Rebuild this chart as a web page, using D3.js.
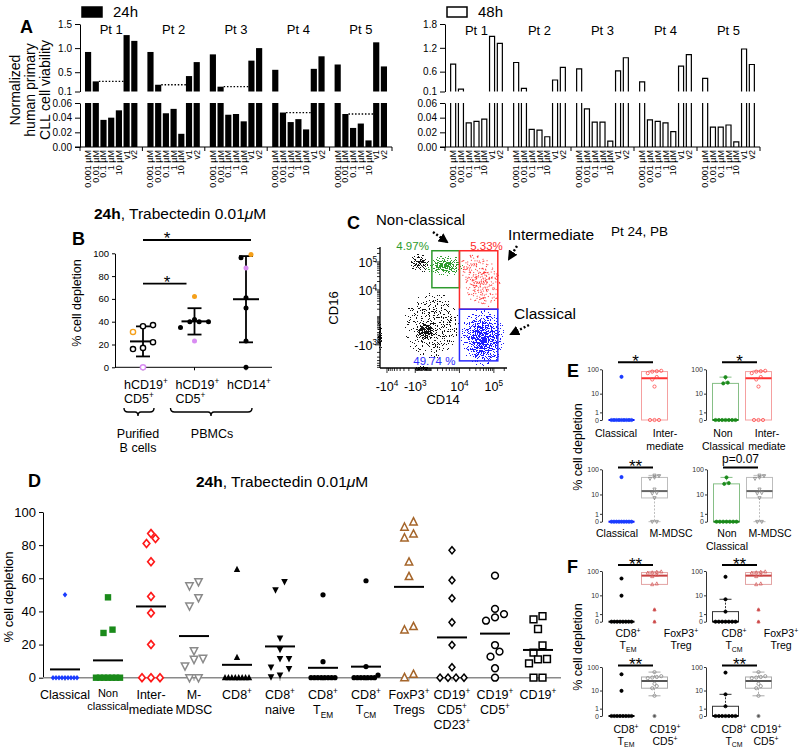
<!DOCTYPE html>
<html><head><meta charset="utf-8">
<script src="https://cdn.jsdelivr.net/npm/d3@7"></script>
<style>html,body{margin:0;padding:0;background:#fff}</style>
</head><body>
<svg id="fig" width="800" height="750" xmlns="http://www.w3.org/2000/svg"></svg>
<script>
// ======================= DATA =======================
// Panel A
const concLabels = ["0.001 µM","0.01 µM","0.1 µM","1 µM","10 µM","v1","v2"];
const patients = ["Pt 1","Pt 2","Pt 3","Pt 4","Pt 5"];
const viability24h = [
  [0.92, 0.31, 0.037, 0.040, 0.050, 1.27, 1.15],
  [0.92, 0.24, 0.046, 0.052, 0.018, 0.42, 0.71],
  [0.87, 0.20, 0.044, 0.045, 0.035, 0.74, 1.00],
  [0.55, 0.047, 0.034, 0.038, 0.024, 0.57, 0.83],
  [0.66, 0.045, 0.026, 0.032, 0.009, 1.12, 0.62]
];
const viability48h = [
  [0.79, 0.16, 0.033, 0.035, 0.038, 1.49, 1.31],
  [0.83, 0.18, 0.024, 0.023, 0.014, 0.39, 0.71],
  [0.67, 0.052, 0.034, 0.034, 0.008, 0.62, 0.95],
  [0.34, 0.037, 0.035, 0.033, 0.021, 0.74, 1.03],
  [0.43, 0.027, 0.027, 0.030, 0.007, 1.17, 0.78]
];
const upperTicks24h = [0.1, 0.5, 1.0, 1.5];
const upperTicks48h = [0.1, 0.6, 1.2, 1.8];
const lowerTicks = [0.00, 0.02, 0.04, 0.06];

// Panel B
const bGroups = ["purified CD19+CD5+", "PBMC CD19+CD5+", "PBMC CD14+"];
const bGroupLabels = [["hCD19^{+}","CD5^{+}"], ["hCD19^{+}","CD5^{+}"], ["hCD14^{+}"]];
const bValues = [
  [36, 37, 31, 22, 17, 16, 0],
  [40, 42, 40, 35, 40, 62, 23],
  [96, 61, 52, 23, 0, 99, 87]
];
const bDonor = [
  ["k","k","orange","k","k","k","violet"],
  ["k","k","k","k","k","orange","violet"],
  ["k","k","k","k","k","orange","violet"]
];
const bTicks = [0, 20, 40, 60, 80, 100];

// Panel C (flow cytometry, CD14 vs CD16)
const cXDomain = [-16000, 240000];
const cYDomain = [-7400, 340000];
const cXTicks = [-1e4, -1e3, 1e4, 1e5];
const cYTicks = [-1e3, 1e4, 1e5];
const cGates = [
  {name: "Non-classical", pct: "4.97%",   x: [1100, 1e4],  y: [1.2e4, 2.5e5]},
  {name: "Intermediate",  pct: "5.33%",   x: [1e4, 1.3e5], y: [2000, 2.5e5]},
  {name: "Classical",     pct: "49.74 %", x: [1e4, 1.3e5], y: [-4100, 2000]}
];
const cPopulations = [
  {pop: "halo",          color: "black", x: 1100,   y: 350,    sx: 1.3,  sy: 1.9,  dens: 0.36, tilt: 0},
  {pop: "lymphocytes",   color: "black", x: 216,    y: -66,    sx: 0.5,  sy: 0.6,  dens: 1.0,  tilt: 0},
  {pop: "CD16+CD14-",    color: "black", x: -385,   y: 91700,  sx: 0.55, sy: 0.5,  dens: 0.7,  tilt: 0},
  {pop: "non-classical", color: "green", x: 3640,   y: 71800,  sx: 0.9,  sy: 0.55, dens: 0.8,  tilt: 0},
  {pop: "intermediate",  color: "red",   x: 39700,  y: 22700,  sx: 0.85, sy: 1.6,  dens: 0.45, tilt: -25},
  {pop: "classical",     color: "blue",  x: 48500,  y: -435,   sx: 0.95, sy: 1.6,  dens: 0.8,  tilt: 0},
  {pop: "classical core",color: "blue",  x: 45000,  y: -800,   sx: 0.5,  sy: 0.85, dens: 1.0,  tilt: 0},
  {pop: "pile y-min",    color: "black", x: -16000, y: -300,   sx: 0.1,  sy: 0.9,  dens: 1.0,  tilt: 0},
  {pop: "pile x-min",    color: "black", x: -144,   y: -7400,  sx: 0.45, sy: 0.12, dens: 1.0,  tilt: 0}
];

// Panel D
const dCats = ["Classical","Non classical","Intermediate","M-MDSC","CD8+","CD8+ naive","CD8+ TEM","CD8+ TCM","FoxP3+ Tregs","CD19+CD5+CD23+","CD19+CD5+","CD19+"];
const dLabels = [["Classical"],["Non","classical"],["Inter-","mediate"],["M-","MDSC"],["CD8^{+}"],["CD8^{+}","naive"],["CD8^{+}","T_{EM}"],["CD8^{+}","T_{CM}"],["FoxP3^{+}","Tregs"],["CD19^{+}","CD5^{+}","CD23^{+}"],["CD19^{+}","CD5^{+}"],["CD19^{+}"]];
const dValues = [
  [50, 0, 0, 0, 0, 0, 0, 0, 0, 0],
  [48.5, 29, 27, 0, 0, 0, 0, 0, 0, 0],
  [87, 84, 81, 70, 49, 39, 20, 0, 0, 0],
  [58, 55.5, 48.3, 43.3, 16.3, 11.7, 11.1, 7.1, 0, 0],
  [65.4, 12.3, 0, 0, 0, 0, 0, 0, 0, 0],
  [58, 53, 23.8, 17.1, 11.5, 11.5, 6.4, 5.4, 1.5, 0.5],
  [50, 9.7, 0, 0, 0, 0, 0, 0, 0, 0],
  [58.5, 6.7, 1.5, 0, 0, 0, 0, 0, 0, 0],
  [94, 90.8, 86.7, 84.3, 69.8, 61, 30.8, 28.8, 2, 0],
  [76.9, 58.8, 47.9, 33.4, 19.7, 6.3, 0, 0, 0, 0],
  [61.6, 41.5, 38.4, 36.4, 34.4, 19.7, 15.7, 12.7, 5.7, 0],
  [37.2, 35.2, 29.4, 19.5, 15.1, 11.3, 11.1, 8.7, 0, 0]
];
const dTicks = [0, 20, 40, 60, 80, 100];

// Panels E / F : pairwise comparisons (indices into dCats)
const efPairs = [
  {a: 0, b: 2, sig: "*"}, {a: 1, b: 2, sig: "*"}, {a: 0, b: 3, sig: "**"}, {a: 1, b: 3, sig: "p=0.07"},
  {a: 6, b: 8, sig: "**"}, {a: 7, b: 8, sig: "**"}, {a: 6, b: 10, sig: "**"}, {a: 7, b: 10, sig: "**"}
];
const efShortLabels = {0: ["Classical"], 1: ["Non","Classical"], 2: ["Inter-","mediate"], 3: ["M-MDSC"],
  6: ["CD8^{+}","T_{EM}"], 7: ["CD8^{+}","T_{CM}"], 8: ["FoxP3^{+}","Treg"], 10: ["CD19^{+}","CD5^{+}"]};
const efTicks = [0, 1, 10, 100];

// ======================= STYLE / LAYOUT =======================
const FF = '"Liberation Sans", Arial, Helvetica, sans-serif';
const svg = d3.select("#fig").attr("font-family", FF);
svg.append("rect").attr("width", 800).attr("height", 750).attr("fill", "#fff");

function rich(t, str, fs) {
  const re = /(\^|_)\{([^}]*)\}|([^\^_]+)/g; let m, pend = 0;
  while ((m = re.exec(str)) !== null) {
    if (m[3] !== undefined) {
      const s = t.append("tspan").text(m[3]);
      if (pend) { s.attr("dy", pend); pend = 0; }
    } else {
      const d = m[1] === "^" ? -0.38 * fs : 0.28 * fs;
      t.append("tspan").text(m[2]).attr("font-size", 0.66 * fs).attr("dy", d + pend);
      pend = -d;
    }
  }
}
function txt(g, x, y, str, o = {}) {
  const fs = o.fs || 12;
  const t = g.append("text").attr("x", x).attr("y", y).attr("font-size", fs)
    .attr("text-anchor", o.anchor || "start").attr("fill", o.fill || "#000");
  if (o.weight) t.attr("font-weight", o.weight);
  if (o.rotate != null) t.attr("transform", `rotate(${o.rotate},${x},${y})`);
  rich(t, str, fs);
  return t;
}
function styleAxis(s, fs, col) {
  s.attr("font-family", FF).attr("font-size", fs);
  s.selectAll("path,line").attr("stroke", col || "#000");
  s.selectAll("text").attr("fill", col || "#000");
}
function markerPath(shape, r) {
  switch (shape) {
    case "circle": return `M${-r},0A${r},${r} 0 1,0 ${r},0A${r},${r} 0 1,0 ${-r},0Z`;
    case "square": return `M${-r},${-r}H${r}V${r}H${-r}Z`;
    case "diamond": return `M0,${-r * 1.2}L${r},0L0,${r * 1.2}L${-r},0Z`;
    case "triangle": return `M0,${-r * 1.15}L${r},${r * 0.8}L${-r},${r * 0.8}Z`;
    case "triangleDown": return `M0,${r * 1.15}L${r},${-r * 0.8}L${-r},${-r * 0.8}Z`;
  }
}
// symmetric horizontal spreading of points with similar values
function spread(values, yScale, sep, maxHalf, binPx) {
  const idx = values.map((v, i) => i).sort((a, b) => values[a] - values[b]);
  const dx = new Array(values.length).fill(0);
  let bin = [], binY = null;
  const flush = () => {
    const n = bin.length; if (!n) return;
    const step = n > 1 ? Math.min(sep, 2 * maxHalf / (n - 1)) : 0;
    bin.forEach((j, k) => dx[j] = (k - (n - 1) / 2) * step); bin = [];
  };
  idx.forEach(i => { const y = yScale(values[i]); if (binY === null || Math.abs(y - binY) > binPx) { flush(); binY = y; } bin.push(i); });
  flush();
  return dx;
}

// ======================= PANEL A =======================
function drawA(cfg) {
  const g = svg.append("g");
  const xG = d3.scaleBand().domain(patients).range([cfg.x0, cfg.x1]).paddingInner(0.16).paddingOuter(0.08);
  const xB = d3.scaleBand().domain(concLabels).range([0, xG.bandwidth()]).paddingInner(0.2);
  const yU = d3.scaleLinear().domain([0.1, cfg.upMax]).range([91.5, 24]);
  const yL = d3.scaleLinear().domain([0, 0.06]).range([147, 103]);
  const bw = xB.bandwidth();
  patients.forEach((p, pi) => {
    const gx = xG(p);
    cfg.data[pi].forEach((v, ci) => {
      const x = gx + xB(concLabels[ci]);
      const lowTop = yL(Math.min(v, 0.06));
      if (cfg.filled) {
        g.append("rect").attr("x", x).attr("y", lowTop).attr("width", bw).attr("height", yL(0) - lowTop).attr("fill", "#000");
        if (v > 0.1) g.append("rect").attr("x", x).attr("y", yU(v)).attr("width", bw).attr("height", yU(0.1) - yU(v)).attr("fill", "#000");
      } else {
        const xa = x + 0.6, xb = x + bw - 0.6;
        const d = v > 0.06 ? `M${xa},${yL(0)}V${lowTop}M${xb},${lowTop}V${yL(0)}` : `M${xa},${yL(0)}V${lowTop}H${xb}V${yL(0)}`;
        g.append("path").attr("d", d).attr("fill", "none").attr("stroke", "#000").attr("stroke-width", 1.2);
        if (v > 0.1) g.append("path").attr("d", `M${xa},${yU(0.1)}V${yU(v)}H${xb}V${yU(0.1)}`).attr("fill", "none").attr("stroke", "#000").attr("stroke-width", 1.2);
      }
      g.append("text").attr("transform", `translate(${x + bw / 2 + 3},150) rotate(-90)`)
        .attr("text-anchor", "end").attr("font-size", 9).text(concLabels[ci]);
    });
    g.append("text").attr("x", gx + xG.bandwidth() / 2).attr("y", cfg.ptY).attr("text-anchor", "middle").attr("font-size", 13).text(p);
    if (cfg.refLine) {
      const v = cfg.data[pi][1]; const y = v > 0.1 ? yU(v) : yL(v);
      g.append("line").attr("x1", gx + xB(concLabels[1]) + bw).attr("x2", gx + xB(concLabels[5]))
        .attr("y1", y).attr("y2", y).attr("stroke", "#000").attr("stroke-width", 1.3).attr("stroke-dasharray", "1.5,1.8");
    }
  });
  g.append("g").attr("transform", `translate(${cfg.x0},0)`)
    .call(d3.axisLeft(yU).tickValues(cfg.upTicks).tickFormat(d3.format(".1f")).tickSize(5).tickSizeOuter(0)).call(s => styleAxis(s, 10));
  g.append("g").attr("transform", `translate(${cfg.x0},0)`)
    .call(d3.axisLeft(yL).tickValues(lowerTicks).tickFormat(d3.format(".2f")).tickSize(5).tickSizeOuter(0)).call(s => styleAxis(s, 10));
  g.append("line").attr("x1", cfg.x0 - 5).attr("x2", cfg.x1).attr("y1", yL(0)).attr("y2", yL(0)).attr("stroke", "#000").attr("stroke-width", 1.2);
  for (let i = 0; i <= patients.length; i++) {
    const tx = cfg.x0 + i * xG.step();
    g.append("line").attr("x1", tx).attr("x2", tx).attr("y1", yL(0)).attr("y2", yL(0) + 4).attr("stroke", "#000");
  }
  g.append("rect").attr("x", cfg.x0 + 2).attr("y", 7).attr("width", 20).attr("height", 10)
    .attr("fill", cfg.filled ? "#000" : "#fff").attr("stroke", "#000").attr("stroke-width", 1.5);
  g.append("text").attr("x", cfg.x0 + 33).attr("y", 17).attr("font-size", 15).text(cfg.legend);
}
drawA({x0: 80, x1: 392, data: viability24h, upMax: 1.5, upTicks: upperTicks24h, filled: true, refLine: true, legend: "24h", ptY: 34});
drawA({x0: 445, x1: 760, data: viability48h, upMax: 1.8, upTicks: upperTicks48h, filled: false, refLine: false, legend: "48h", ptY: 35});
txt(svg, 20, 33, "A", {fs: 18, weight: "bold"});
[["Normalized", 20], ["human primary", 35], ["CLL cell viability", 50]].forEach(([s, x]) =>
  txt(svg, x, 90, s, {fs: 14, anchor: "middle", rotate: -90}));

function trabTitle(x, y) {
  const t = svg.append("text").attr("x", x).attr("y", y).attr("font-size", 15.5);
  t.append("tspan").attr("font-weight", "bold").text("24h");
  t.append("tspan").text(", Trabectedin 0.01");
  t.append("tspan").attr("font-style", "italic").text("μ");
  t.append("tspan").text("M");
}

// ======================= PANEL B =======================
(function () {
  const g = svg.append("g");
  trabTitle(94, 219);
  txt(g, 72, 245, "B", {fs: 18, weight: "bold"});
  const by = d3.scaleLinear().domain([0, 100]).range([367.3, 253.3]);
  const bx = d3.scalePoint().domain(bGroups).range([143, 246]);
  g.append("g").attr("transform", "translate(115,0)")
    .call(d3.axisLeft(by).tickValues(bTicks).tickSize(3).tickSizeOuter(0)).call(s => styleAxis(s, 9.5));
  g.append("line").attr("x1", 115).attr("x2", 272).attr("y1", by(0)).attr("y2", by(0)).attr("stroke", "#000");
  bGroups.forEach(k => g.append("line").attr("x1", bx(k)).attr("x2", bx(k)).attr("y1", by(0)).attr("y2", by(0) + 3).attr("stroke", "#000"));
  txt(g, 81, 303, "% cell depletion", {fs: 12.5, anchor: "middle", rotate: -90});
  const donorCol = {k: "#000", orange: "#f5a01a", violet: "#d98cf2"};
  bGroups.forEach((k, gi) => {
    const vals = bValues[gi], cx = bx(k);
    const m = d3.mean(vals), sd = d3.deviation(vals);
    g.append("line").attr("x1", cx).attr("x2", cx).attr("y1", by(m - sd)).attr("y2", by(m + sd)).attr("stroke", "#000").attr("stroke-width", 1.8);
    [m - sd, m + sd].forEach(v => g.append("line").attr("x1", cx - 7).attr("x2", cx + 7).attr("y1", by(v)).attr("y2", by(v)).attr("stroke", "#000").attr("stroke-width", 1.8));
    g.append("line").attr("x1", cx - 13).attr("x2", cx + 13).attr("y1", by(m)).attr("y2", by(m)).attr("stroke", "#000").attr("stroke-width", 2);
    const dx = spread(vals, by, 10, 14, 7);
    vals.forEach((v, i) => {
      const col = donorCol[bDonor[gi][i]];
      const p = g.append("path").attr("d", markerPath("circle", gi === 0 ? 2.6 : 2.5)).attr("transform", `translate(${cx + dx[i]},${by(v)})`);
      if (gi === 0) p.attr("fill", "#fff").attr("stroke", col).attr("stroke-width", 1.4);
      else p.attr("fill", col);
    });
    bGroupLabels[gi].forEach((s, li) => txt(g, cx - 19, 389 + li * 14, s, {fs: 12.5}));
  });
  const sig = (x1, x2, y, sx) => {
    g.append("line").attr("x1", x1).attr("x2", x2).attr("y1", y).attr("y2", y).attr("stroke", "#000").attr("stroke-width", 1.8);
    txt(g, sx, y + 4, "*", {fs: 17, anchor: "middle"});
  };
  sig(bx(bGroups[0]), bx(bGroups[2]) + 5, 240, 167);
  sig(bx(bGroups[0]), bx(bGroups[1]) - 8, 283.7, 167);
  const brace = (x1, x2, sx) => `M${x1},408q0,4 4,4H${sx - 3}q3,0 3,4q0,-4 3,-4H${x2 - 4}q4,0 4,-4`;
  g.append("path").attr("d", brace(bx(bGroups[0]) - 19, bx(bGroups[0]) + 11, 138)).attr("fill", "none").attr("stroke", "#000").attr("stroke-width", 1.4);
  g.append("path").attr("d", brace(bx(bGroups[1]) - 24, bx(bGroups[2]) + 6, 211)).attr("fill", "none").attr("stroke", "#000").attr("stroke-width", 1.4);
  txt(g, 138, 438, "Purified", {fs: 12.5, anchor: "middle"});
  txt(g, 138, 452, "B cells", {fs: 12.5, anchor: "middle"});
  txt(g, 212, 438, "PBMCs", {fs: 12.5, anchor: "middle"});
})();

// ======================= PANEL C =======================
(function () {
  const g = svg.append("g");
  const tX = v => Math.asinh(v / 1800), tY = v => Math.asinh(v / 700);
  const xs = d3.scaleLinear().domain(cXDomain.map(tX)).range([380, 507]);
  const ys = d3.scaleLinear().domain(cYDomain.map(tY)).range([368, 247]);
  const X = v => xs(tX(v)), Y = v => ys(tY(v));
  const pxX = (xs.range()[1] - xs.range()[0]) / (xs.domain()[1] - xs.domain()[0]);
  const pxY = (ys.range()[0] - ys.range()[1]) / (ys.domain()[1] - ys.domain()[0]);
  const defs = svg.append("defs");
  const colMap = {black: "#151515", green: "#2f9b2f", red: "#ff3535", blue: "#1c1cff"};
  Object.entries(colMap).forEach(([k, c]) => {
    const f = defs.append("filter").attr("id", "spk-" + k).attr("x", "-20%").attr("y", "-20%").attr("width", "140%").attr("height", "140%")
      .attr("color-interpolation-filters", "sRGB");
    f.append("feTurbulence").attr("type", "fractalNoise").attr("baseFrequency", 0.85).attr("numOctaves", 2).attr("seed", 11).attr("result", "noise");
    const ct0 = f.append("feComponentTransfer").attr("in", "noise").attr("result", "noise2");
    ct0.append("feFuncR").attr("type", "linear").attr("slope", 2.6).attr("intercept", -0.8);
    f.append("feColorMatrix").attr("in", "noise2").attr("type", "matrix").attr("values", "0 0 0 0 0  0 0 0 0 0  0 0 0 0 0  1 0 0 0 0").attr("result", "na");
    f.append("feComposite").attr("in", "SourceAlpha").attr("in2", "na").attr("operator", "arithmetic")
      .attr("k1", 0).attr("k2", 1).attr("k3", 1).attr("k4", -1).attr("result", "sum");
    const ct = f.append("feComponentTransfer").attr("in", "sum").attr("result", "mask");
    ct.append("feFuncA").attr("type", "discrete").attr("tableValues", "0 1 1 1 1 1 1 1 1 1 1 1 1 1 1 1 1 1 1 1");
    f.append("feFlood").attr("flood-color", c).attr("result", "fl");
    f.append("feComposite").attr("in", "fl").attr("in2", "mask").attr("operator", "in");
  });
  cPopulations.forEach((p, i) => {
    const gid = "grad" + i;
    const gr = defs.append("radialGradient").attr("id", gid);
    gr.append("stop").attr("offset", "0%").attr("stop-color", "#000").attr("stop-opacity", p.dens);
    gr.append("stop").attr("offset", "55%").attr("stop-color", "#000").attr("stop-opacity", p.dens * 0.62);
    gr.append("stop").attr("offset", "100%").attr("stop-color", "#000").attr("stop-opacity", 0);
    const cx = X(p.x), cy = Y(p.y);
    g.append("ellipse").attr("cx", cx).attr("cy", cy).attr("rx", p.sx * pxX * 1.6).attr("ry", p.sy * pxY * 1.6)
      .attr("transform", `rotate(${p.tilt},${cx},${cy})`)
      .attr("fill", `url(#${gid})`).attr("filter", `url(#spk-${p.color})`);
  });
  const gateCol = ["#2e9b2e", "#ff2a2a", "#2a2aff"];
  cGates.forEach((gt, i) => {
    g.append("rect").attr("x", X(gt.x[0])).attr("y", Y(gt.y[1])).attr("width", X(gt.x[1]) - X(gt.x[0])).attr("height", Y(gt.y[0]) - Y(gt.y[1]))
      .attr("fill", "none").attr("stroke", gateCol[i]).attr("stroke-width", 1.5);
  });
  txt(g, X(cGates[0].x[0]) - 3, Y(cGates[0].y[1]) - 1, cGates[0].pct, {fs: 11.5, anchor: "end", fill: gateCol[0]});
  txt(g, X(cGates[1].x[1]) + 5, Y(cGates[1].y[1]) - 1, cGates[1].pct, {fs: 11.5, anchor: "end", fill: gateCol[1]});
  txt(g, X(cGates[2].x[0]) - 4, Y(cGates[2].y[0]) + 4, cGates[2].pct, {fs: 11.5, anchor: "end", fill: gateCol[2]});
  g.append("line").attr("x1", 380).attr("x2", 380).attr("y1", 247).attr("y2", 368).attr("stroke", "#000").attr("stroke-width", 1.3);
  g.append("line").attr("x1", 380).attr("x2", 507).attr("y1", 368).attr("y2", 368).attr("stroke", "#000").attr("stroke-width", 1.3);
  const minors = [];
  [100, 1000, 10000, 100000].forEach(d => { for (let k = 1; k <= 9; k++) { minors.push(k * d); minors.push(-k * d); } });
  minors.filter(v => v > cXDomain[0] && v < cXDomain[1]).forEach(v => {
    const major = cXTicks.includes(v);
    g.append("line").attr("x1", X(v)).attr("x2", X(v)).attr("y1", 368).attr("y2", 368 + (major ? 5 : 3)).attr("stroke", "#000").attr("stroke-width", 0.8);
  });
  minors.filter(v => v > cYDomain[0] && v < cYDomain[1]).forEach(v => {
    const major = cYTicks.includes(v);
    g.append("line").attr("x1", 380).attr("x2", 380 - (major ? 5 : 3)).attr("y1", Y(v)).attr("y2", Y(v)).attr("stroke", "#000").attr("stroke-width", 0.8);
  });
  const expLabel = v => (v < 0 ? "-" : "") + "10^{" + Math.round(Math.log10(Math.abs(v))) + "}";
  cXTicks.forEach(v => txt(g, X(v), 391, expLabel(v), {fs: 12.5, anchor: "middle"}));
  cYTicks.forEach(v => txt(g, 377, Y(v) + 5, expLabel(v), {fs: 12.5, anchor: "end"}));
  txt(g, 443, 404, "CD14", {fs: 13, anchor: "middle"});
  txt(g, 338, 308, "CD16", {fs: 13, anchor: "middle", rotate: -90});
  txt(g, 347, 229, "C", {fs: 18, weight: "bold"});
  txt(g, 376, 225, "Non-classical", {fs: 15});
  txt(g, 508, 240, "Intermediate", {fs: 15.5});
  txt(g, 514, 319, "Classical", {fs: 15.5});
  txt(g, 611, 236, "Pt 24, PB", {fs: 13.5});
  svg.append("defs").append("marker").attr("id", "ahead").attr("viewBox", "0 0 10 10").attr("refX", 8).attr("refY", 5)
    .attr("markerWidth", 4.2).attr("markerHeight", 4.2).attr("orient", "auto")
    .append("path").attr("d", "M0,0L10,5L0,10Z").attr("fill", "#000");
  [[433, 232, 447, 242], [517, 246, 509, 259], [529, 325, 511, 334]].forEach(a => {
    g.append("line").attr("x1", a[0]).attr("y1", a[1]).attr("x2", a[2]).attr("y2", a[3]).attr("stroke", "#000")
      .attr("stroke-width", 2.4).attr("stroke-dasharray", "2,2").attr("marker-end", "url(#ahead)");
  });
})();

// ======================= PANEL D =======================
const dStyle = [
  {shape: "diamond", r: 2.3, fill: "#1a3cff", stroke: "none"},
  {shape: "square", r: 3.2, fill: "#1a8a1a", stroke: "none"},
  {shape: "diamond", r: 3.3, fill: "#fff", stroke: "#ff1a1a", sw: 1.7},
  {shape: "triangleDown", r: 3.7, fill: "#fff", stroke: "#8a8a8a", sw: 1.5},
  {shape: "triangle", r: 3.2, fill: "#000", stroke: "none"},
  {shape: "triangleDown", r: 3.3, fill: "#000", stroke: "none"},
  {shape: "circle", r: 2.6, fill: "#000", stroke: "none"},
  {shape: "circle", r: 2.6, fill: "#000", stroke: "none"},
  {shape: "triangle", r: 3.7, fill: "#fff", stroke: "#a5652a", sw: 1.5},
  {shape: "diamond", r: 3.0, fill: "#fff", stroke: "#000", sw: 1.5},
  {shape: "circle", r: 3.4, fill: "#fff", stroke: "#000", sw: 1.5},
  {shape: "square", r: 3.4, fill: "#fff", stroke: "#000", sw: 1.5}
];
(function () {
  const g = svg.append("g");
  txt(g, 28, 487, "D", {fs: 18, weight: "bold"});
  trabTitle(196, 487);
  const dy = d3.scaleLinear().domain([0, 100]).range([677.7, 512]);
  const dx = d3.scalePoint().domain(dCats).range([65, 538]);
  g.append("g").attr("transform", "translate(43,0)")
    .call(d3.axisLeft(dy).tickValues(dTicks).tickSize(4).tickSizeOuter(0)).call(s => styleAxis(s, 13));
  g.append("line").attr("x1", 43).attr("x2", 561).attr("y1", dy(0)).attr("y2", dy(0)).attr("stroke", "#8a8a8a").attr("stroke-width", 1.5);
  dCats.forEach(c => g.append("line").attr("x1", dx(c)).attr("x2", dx(c)).attr("y1", dy(0)).attr("y2", dy(0) + 3).attr("stroke", "#8a8a8a"));
  txt(g, 13, 597, "% cell depletion", {fs: 13, anchor: "middle", rotate: -90});
  dCats.forEach((c, ci) => {
    const vals = dValues[ci], st = dStyle[ci], cx = dx(c);
    const off = spread(vals, dy, 9, 12, 9);
    vals.forEach((v, i) => {
      g.append("path").attr("d", markerPath(st.shape, st.r)).attr("transform", `translate(${cx + off[i]},${dy(v)})`)
        .attr("fill", st.fill).attr("stroke", st.stroke).attr("stroke-width", st.sw || 0);
    });
    const m = d3.mean(vals);
    g.append("line").attr("x1", cx - 15).attr("x2", cx + 15).attr("y1", dy(m)).attr("y2", dy(m)).attr("stroke", "#000").attr("stroke-width", 2);
    const small = ci === 1;
    dLabels[ci].forEach((s, li) => txt(g, cx, (small ? 697 : 699) + li * (small ? 13 : 15), s, {fs: small ? 11 : 12.5, anchor: "middle"}));
  });
})();

// ======================= PANELS E / F =======================
const efStyle = {
  0: {box: "#2020ff", med: "#0000ff", pt: "#1a3cff", shape: "circle", fillPt: true},
  1: {box: "#86bf86", med: "#1a7a1a", pt: "#1a8a1a", shape: "circle", fillPt: true},
  2: {box: "#f5a0a0", med: "#ff3030", pt: "#ff4a4a", shape: "circle", fillPt: false},
  3: {box: "#bdbdbd", med: "#666", pt: "#8a8a8a", shape: "triangleDown", fillPt: false},
  6: {box: "#333", med: "#000", pt: "#000", shape: "circle", fillPt: true},
  7: {box: "#333", med: "#000", pt: "#000", shape: "circle", fillPt: true},
  8: {box: "#e3a3a3", med: "#c84040", pt: "#d46060", shape: "triangle", fillPt: false},
  10: {box: "#aaaaaa", med: "#555", pt: "#888", shape: "circle", fillPt: false}
};
const efLayout = [
  {ax: 602, y0: 420, y100: 369.3, sigY: 362.3, labY: 437, lh: 13, dx: [14, 63]},
  {ax: 706, y0: 420, y100: 369.3, sigY: 362.3, labY: 437, lh: 13, dx: [17, 61]},
  {ax: 602, y0: 521.7, y100: 469.3, sigY: 467.5, labY: 537, lh: 13, dx: [15, 69]},
  {ax: 707, y0: 521.7, y100: 469.3, sigY: 467.5, labY: 537, lh: 13, dx: [20, 63]},
  {ax: 602, y0: 621.7, y100: 571, sigY: 565, labY: 637, lh: 12, dx: [26, 79]},
  {ax: 706, y0: 621.7, y100: 571, sigY: 565, labY: 637, lh: 12, dx: [28, 75]},
  {ax: 602, y0: 716, y100: 667, sigY: 665.5, labY: 733, lh: 11.5, dx: [24, 63]},
  {ax: 706, y0: 716, y100: 667, sigY: 665.5, labY: 733, lh: 11.5, dx: [28, 60]}
];
function boxStats(vals) {
  const t = vals.map(v => Math.log1p(v)).sort(d3.ascending);
  const n = t.length;
  const med = d3.median(t);
  const q1 = d3.median(t.slice(0, Math.ceil(n / 2)));
  const q3 = d3.median(t.slice(Math.floor(n / 2)));
  const iqr = q3 - q1;
  const lo = t.find(v => v >= q1 - 1.5 * iqr), hi = [...t].reverse().find(v => v <= q3 + 1.5 * iqr);
  const out = t.filter(v => v < lo || v > hi);
  const e = Math.expm1;
  return {med: e(med), q1: e(q1), q3: e(q3), lo: e(lo), hi: e(hi), out: out.map(e)};
}
(function () {
  const g = svg.append("g");
  txt(g, 567, 377, "E", {fs: 18, weight: "bold"});
  txt(g, 567, 573, "F", {fs: 18, weight: "bold"});
  txt(g, 582, 447, "% cell depletion", {fs: 12.5, anchor: "middle", rotate: -90});
  txt(g, 582, 647, "% cell depletion", {fs: 12.5, anchor: "middle", rotate: -90});
  efPairs.forEach((pr, pi) => {
    const L = efLayout[pi];
    const ys = d3.scaleSymlog().constant(1).domain([0, 100]).range([L.y0, L.y100]);
    g.append("g").attr("transform", `translate(${L.ax},0)`)
      .call(d3.axisLeft(ys).tickValues(efTicks).tickSize(2).tickPadding(1).tickSizeOuter(0)).call(s => styleAxis(s, 7, "#333"));
    [pr.a, pr.b].forEach((ci, k) => {
      const st = efStyle[ci], vals = dValues[ci], S = boxStats(vals);
      const cx = L.ax + (k === 0 ? 19.5 : 52.5), hw = 13;
      [[S.q3, S.hi], [S.q1, S.lo]].forEach(([a, b]) => {
        if (Math.abs(ys(a) - ys(b)) > 0.5) {
          g.append("line").attr("x1", cx).attr("x2", cx).attr("y1", ys(a)).attr("y2", ys(b)).attr("stroke", st.box).attr("stroke-width", 1).attr("stroke-dasharray", "2,1.5");
          g.append("line").attr("x1", cx - 6).attr("x2", cx + 6).attr("y1", ys(b)).attr("y2", ys(b)).attr("stroke", st.box).attr("stroke-width", 1);
        }
      });
      g.append("rect").attr("x", cx - hw).attr("y", ys(S.q3)).attr("width", 2 * hw).attr("height", Math.max(0, ys(S.q1) - ys(S.q3)))
        .attr("fill", "#fff").attr("fill-opacity", 0.6).attr("stroke", st.box).attr("stroke-width", 1);
      g.append("line").attr("x1", cx - hw).attr("x2", cx + hw).attr("y1", ys(S.med)).attr("y2", ys(S.med)).attr("stroke", st.med).attr("stroke-width", 2);
      S.out.forEach(v => g.append("circle").attr("cx", cx).attr("cy", ys(v)).attr("r", 1.5).attr("fill", st.med));
      const off = spread(vals, ys, 4.5, 10, 3);
      vals.forEach((v, i) => {
        g.append("path").attr("d", markerPath(st.shape, 1.6)).attr("transform", `translate(${cx + off[i]},${ys(v)})`)
          .attr("fill", st.fillPt ? st.pt : "none").attr("stroke", st.pt).attr("stroke-width", 0.8);
      });
      efShortLabels[ci].forEach((s, li) => txt(g, L.ax + L.dx[k], L.labY + li * L.lh, s, {fs: 10.5, anchor: "middle"}));
    });
    const x1 = L.ax + 16, x2 = L.ax + 51;
    g.append("line").attr("x1", x1).attr("x2", x2).attr("y1", L.sigY).attr("y2", L.sigY).attr("stroke", "#000").attr("stroke-width", 2);
    if (pr.sig.startsWith("p")) txt(g, (x1 + x2) / 2, L.sigY - 4.5, pr.sig, {fs: 12, anchor: "middle"});
    else txt(g, (x1 + x2) / 2, L.sigY + 4.5, pr.sig, {fs: 17, anchor: "middle"});
  });
})();
</script>
</body></html>
